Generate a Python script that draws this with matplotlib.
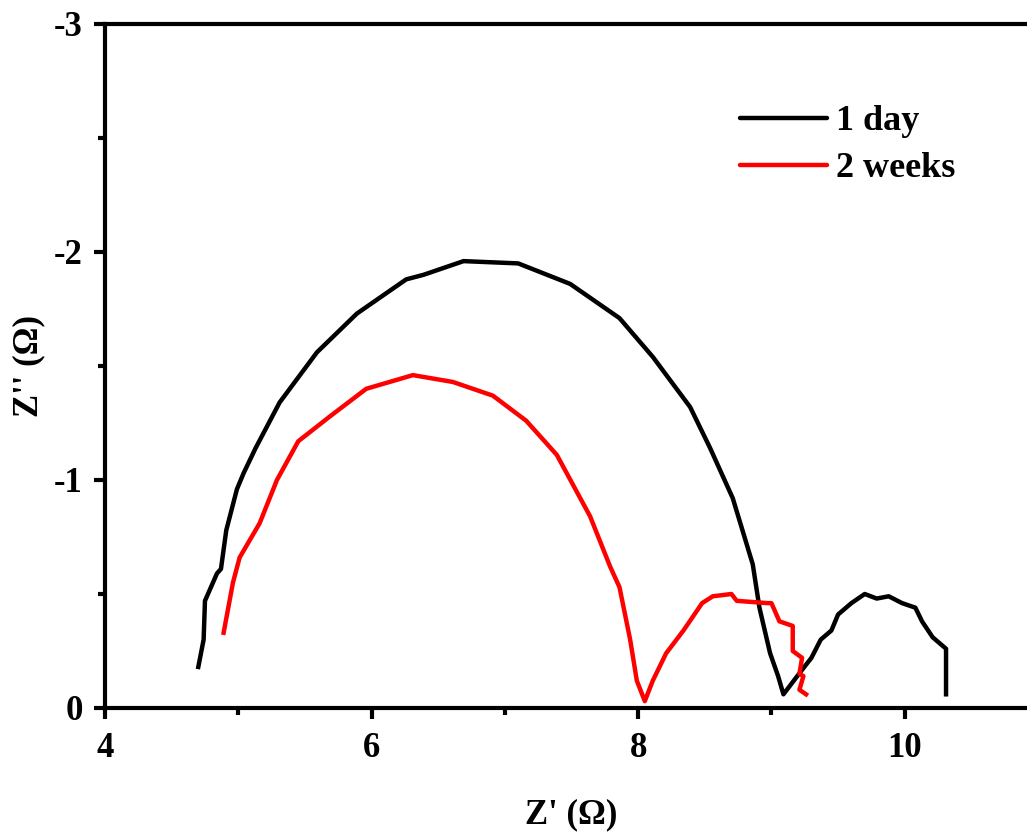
import matplotlib
matplotlib.use("Agg")
import matplotlib.pyplot as plt
from matplotlib.ticker import MultipleLocator

plt.rcParams["font.family"] = ["Liberation Serif", "DejaVu Serif"]
plt.rcParams["font.weight"] = "bold"
plt.rcParams["axes.labelweight"] = "bold"
plt.rcParams["axes.unicode_minus"] = False

# Nyquist data, Z' and Z'' in ohm
day1_zre = [4.70, 4.74, 4.75, 4.84, 4.87, 4.91, 4.99, 5.04, 5.13, 5.31, 5.59, 5.89,
            6.26, 6.39, 6.69, 7.10, 7.49, 7.86, 8.11, 8.39, 8.54, 8.71, 8.86, 8.91,
            8.99, 9.05, 9.09, 9.22, 9.30, 9.37, 9.45, 9.50, 9.60, 9.70, 9.79, 9.88,
            9.98, 10.08, 10.13, 10.21, 10.31, 10.31]
day1_zim = [-0.18, -0.30, -0.47, -0.59, -0.61, -0.78, -0.96, -1.03, -1.14, -1.34, -1.56, -1.73,
            -1.88, -1.90, -1.96, -1.95, -1.86, -1.71, -1.54, -1.32, -1.14, -0.92, -0.63, -0.44,
            -0.24, -0.14, -0.06, -0.16, -0.22, -0.30, -0.34, -0.41, -0.46, -0.50, -0.48, -0.49,
            -0.46, -0.44, -0.38, -0.31, -0.26, -0.06]

week2_zre = [4.89, 4.96, 5.01, 5.16, 5.29, 5.45, 5.69, 5.96, 6.31, 6.61, 6.91, 7.16,
             7.39, 7.64, 7.79, 7.86, 7.94, 7.99, 8.05, 8.11, 8.21, 8.34, 8.48, 8.56,
             8.70, 8.74, 8.97, 9.00, 9.06, 9.16, 9.16, 9.23, 9.21, 9.24, 9.21, 9.26]
week2_zim = [-0.33, -0.55, -0.66, -0.81, -1.00, -1.17, -1.28, -1.40, -1.46, -1.43, -1.37, -1.26,
             -1.11, -0.84, -0.62, -0.53, -0.30, -0.12, -0.03, -0.12, -0.24, -0.34, -0.46, -0.49,
             -0.50, -0.47, -0.46, -0.46, -0.38, -0.36, -0.25, -0.22, -0.15, -0.14, -0.08, -0.06]

W, H = 1027, 832
fig = plt.figure(figsize=(W / 100, H / 100), dpi=100)
# axes run slightly past the right edge of the canvas
ax = fig.add_axes([105 / W, (H - 708) / H, (1038 - 105) / W, (708 - 24) / H])

ax.plot(day1_zre, day1_zim, color="black", lw=3.2, label="1 day")
ax.plot(week2_zre, week2_zim, color="#ff0000", lw=3.2, label="2 weeks")

ax.set_xlim(4, 11)
ax.set_ylim(0, -3)
ax.xaxis.set_major_locator(MultipleLocator(2))
ax.xaxis.set_minor_locator(MultipleLocator(1))
ax.yaxis.set_major_locator(MultipleLocator(1))
ax.yaxis.set_minor_locator(MultipleLocator(0.5))

for side in ax.spines.values():
    side.set_linewidth(3)
ax.tick_params(which="major", direction="out", length=8, width=3, labelsize=25)
ax.tick_params(axis="x", which="major", pad=9)
ax.tick_params(axis="y", which="major", pad=8)
ax.tick_params(which="minor", direction="out", length=5, width=3)
ax.tick_params(top=False, right=False, which="both")

ax.set_xlabel("Z' (\u03a9)", fontsize=25, labelpad=24)
ax.set_ylabel("Z'' (\u03a9)", fontsize=25, labelpad=6)

leg = ax.legend(loc="upper left", bbox_to_anchor=((740 - 105) / (1038 - 105), (708 - 105) / (708 - 24)),
                frameon=False, fontsize=26, handlelength=2.4, handletextpad=0.25,
                labelspacing=0.38, borderaxespad=0, borderpad=0)
for line in leg.get_lines():
    line.set_solid_capstyle("round")

fig.savefig("out.png", dpi=100)
